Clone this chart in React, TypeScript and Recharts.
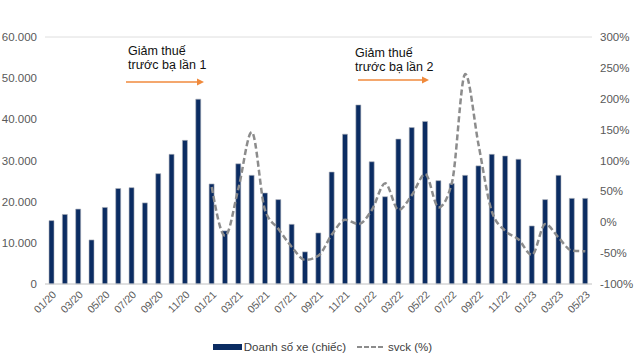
import React from 'react';
import {
  ComposedChart,
  Bar,
  Line,
  XAxis,
  YAxis,
  CartesianGrid,
  Legend,
} from 'recharts';

const months = [
  '01/20', '02/20', '03/20', '04/20', '05/20', '06/20', '07/20', '08/20', '09/20', '10/20', '11/20', '12/20',
  '01/21', '02/21', '03/21', '04/21', '05/21', '06/21', '07/21', '08/21', '09/21', '10/21', '11/21', '12/21',
  '01/22', '02/22', '03/22', '04/22', '05/22', '06/22', '07/22', '08/22', '09/22', '10/22', '11/22', '12/22',
  '01/23', '02/23', '03/23', '04/23', '05/23',
];

// Doanh số xe (chiếc)
const sales = [
  15400, 16900, 18200, 10700, 18600, 23200, 23400, 19700, 26800, 31500, 34900, 44900,
  24300, 12900, 29200, 26400, 22100, 20500, 14500, 7800, 12400, 27200, 36400, 43500,
  29700, 21200, 35200, 38000, 39500, 25100, 24400, 26400, 28700, 31500, 31100, 30300,
  14100, 20500, 26400, 20800, 20800,
];

// svck (%) - starts from 01/21
const yoy: (number | null)[] = [
  null, null, null, null, null, null, null, null, null, null, null, null,
  57, -22, 55, 146, 19, -11, -40, -61, -54, -20, 4, -3,
  20, 63, 20, 44, 78, 24, 64, 240, 125, 17, -14, -28,
  -53, -3, -25, -46, -47,
];

const BAR_COLOR = '#0b2c62';
const LINE_COLOR = '#8c8c8c';
const AXIS_TEXT = '#595959';
const FONT = 'Liberation Sans, Arial, sans-serif';

const data = months.map((m, i) => ({ month: m, sales: sales[i], yoy: yoy[i] }));

const fmtThousands = (v: number) => (v === 0 ? '0' : v.toLocaleString('de-DE'));

const LegendContent = () => (
  <div
    style={{
      display: 'flex',
      justifyContent: 'center',
      alignItems: 'center',
      fontFamily: FONT,
      fontSize: 11.5,
      color: '#404040',
      paddingLeft: 8,
    }}
  >
    <span style={{ display: 'inline-block', width: 29, height: 6, background: BAR_COLOR, marginRight: 2 }} />
    <span>Doanh số xe (chiếc)</span>
    <svg width={30} height={8} style={{ marginLeft: 10, marginRight: 2 }}>
      <line x1={1} y1={4} x2={29} y2={4} stroke={LINE_COLOR} strokeWidth={2} strokeDasharray="5 2" />
    </svg>
    <span>svck (%)</span>
  </div>
);

const Annotation = ({ x, y, arrowX1, arrowX2, arrowY, label }: any) => (
  <>
    <div
      style={{
        position: 'absolute',
        left: x,
        top: y,
        fontFamily: FONT,
        fontSize: 12.5,
        lineHeight: '14px',
        color: '#111',
        whiteSpace: 'nowrap',
      }}
    >
      Giảm thuế
      <br />
      {label}
    </div>
    <svg
      style={{ position: 'absolute', left: 0, top: 0, pointerEvents: 'none' }}
      width={637}
      height={359}
    >
      <line x1={arrowX1} y1={arrowY} x2={arrowX2 - 6} y2={arrowY} stroke="#f08a3c" strokeWidth={1.5} />
      <polygon
        points={`${arrowX2},${arrowY} ${arrowX2 - 7},${arrowY - 3.5} ${arrowX2 - 7},${arrowY + 3.5}`}
        fill="#f08a3c"
      />
    </svg>
  </>
);

export default function App() {
  return (
    <div style={{ position: 'absolute', left: 0, top: 0, width: 637, height: 359, background: '#fff' }}>
      <ComposedChart
        width={637}
        height={359}
        data={data}
        margin={{ top: 37, right: 0, bottom: 6, left: 0 }}
      >
        <CartesianGrid vertical={false} stroke="#dedede" />
        <XAxis
          dataKey="month"
          interval={1}
          angle={-45}
          textAnchor="end"
          tickLine={false}
          axisLine={{ stroke: '#d0d0d0' }}
          tick={{ fill: AXIS_TEXT, fontSize: 10.5, fontFamily: FONT, dy: -2 }}
          height={57}
        />
        <YAxis
          yAxisId="left"
          domain={[0, 60000]}
          ticks={[0, 10000, 20000, 30000, 40000, 50000, 60000]}
          tickFormatter={fmtThousands}
          axisLine={false}
          tickLine={false}
          width={45}
          tick={{ fill: AXIS_TEXT, fontSize: 11.5, fontFamily: FONT }}
        />
        <YAxis
          yAxisId="right"
          orientation="right"
          domain={[-100, 300]}
          ticks={[-100, -50, 0, 50, 100, 150, 200, 250, 300]}
          tickFormatter={(v: number) => `${v}%`}
          axisLine={false}
          tickLine={false}
          width={45}
          tick={{ fill: AXIS_TEXT, fontSize: 11.5, fontFamily: FONT }}
        />
        <Bar
          yAxisId="left"
          dataKey="sales"
          name="Doanh số xe (chiếc)"
          fill={BAR_COLOR}
          stroke="#b0b4bc"
          strokeWidth={0.6}
          barSize={5}
          isAnimationActive={false}
        />
        <Line
          yAxisId="right"
          dataKey="yoy"
          name="svck (%)"
          type="monotone"
          stroke={LINE_COLOR}
          strokeWidth={2.5}
          strokeDasharray="6 3"
          dot={false}
          connectNulls={false}
          isAnimationActive={false}
        />
        <Legend verticalAlign="bottom" content={<LegendContent />} />
      </ComposedChart>
      <Annotation x={128} y={44} arrowX1={126} arrowX2={204} arrowY={82} label="trước bạ lần 1" />
      <Annotation x={355} y={46} arrowX1={358} arrowX2={429} arrowY={80} label="trước bạ lần 2" />
    </div>
  );
}
